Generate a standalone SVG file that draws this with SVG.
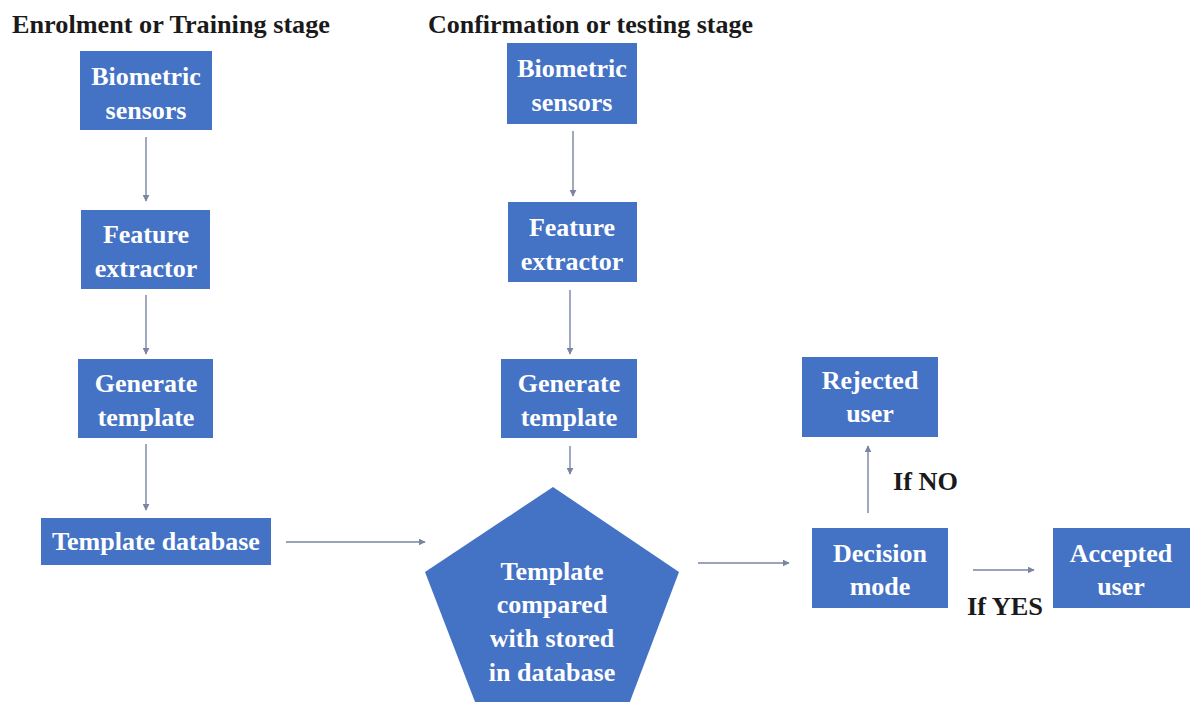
<svg xmlns="http://www.w3.org/2000/svg" width="1190" height="702" viewBox="0 0 1190 702">
<style>
.box{fill:#4472C4;}
.t{font-family:"Liberation Serif","Times New Roman",serif;font-weight:bold;font-size:26px;fill:#ffffff;text-anchor:middle;}
.h{font-family:"Liberation Serif","Times New Roman",serif;font-weight:bold;font-size:26px;fill:#1a1a1a;}
.c{stroke:#7a84a3;stroke-width:1.4;fill:none;marker-end:url(#ah);}
</style>
<defs>
<marker id="ah" viewBox="0 0 10 10" refX="9" refY="5" markerWidth="5" markerHeight="5" orient="auto" markerUnits="strokeWidth">
<path d="M0,0 L10,5 L0,10 z" fill="#7a84a3"/>
</marker>
</defs>
<rect width="1190" height="702" fill="#ffffff"/>
<g id="titles">
<text class="h" x="12" y="33" textLength="318" lengthAdjust="spacingAndGlyphs">Enrolment or Training stage</text>
<text class="h" x="428" y="33" textLength="325" lengthAdjust="spacingAndGlyphs">Confirmation or testing stage</text>
</g>
<g id="connectors">
<line class="c" x1="146" y1="137" x2="146" y2="201"/>
<line class="c" x1="146" y1="295" x2="146" y2="354"/>
<line class="c" x1="146" y1="444" x2="146" y2="510"/>
<line class="c" x1="286" y1="542" x2="425" y2="542"/>
<line class="c" x1="573" y1="131" x2="573" y2="196"/>
<line class="c" x1="570" y1="290" x2="570" y2="354"/>
<line class="c" x1="570" y1="446" x2="570" y2="474"/>
<line class="c" x1="698" y1="563" x2="789" y2="563"/>
<line class="c" x1="868" y1="513" x2="868" y2="446"/>
<line class="c" x1="973" y1="570" x2="1034" y2="570"/>
</g>
<g id="enrol-sensors">
<rect class="box" x="80" y="51" width="132" height="79"/>
<text class="t" x="146" y="85">Biometric</text>
<text class="t" x="146" y="119">sensors</text>
</g>
<g id="enrol-feature">
<rect class="box" x="81" y="210" width="129" height="79"/>
<text class="t" x="146" y="243">Feature</text>
<text class="t" x="146" y="277">extractor</text>
</g>
<g id="enrol-generate">
<rect class="box" x="78" y="359" width="135" height="79"/>
<text class="t" x="146" y="392">Generate</text>
<text class="t" x="146" y="426">template</text>
</g>
<g id="template-database">
<rect class="box" x="41" y="518" width="230" height="47"/>
<text class="t" x="156" y="550">Template database</text>
</g>
<g id="test-sensors">
<rect class="box" x="507" y="43" width="130" height="81"/>
<text class="t" x="572" y="77">Biometric</text>
<text class="t" x="572" y="111">sensors</text>
</g>
<g id="test-feature">
<rect class="box" x="508" y="202" width="129" height="80"/>
<text class="t" x="572" y="236">Feature</text>
<text class="t" x="572" y="270">extractor</text>
</g>
<g id="test-generate">
<rect class="box" x="501" y="359" width="136" height="79"/>
<text class="t" x="569" y="392">Generate</text>
<text class="t" x="569" y="426">template</text>
</g>
<g id="compare">
<polygon class="box" points="553,487 679,572 623,720 482,720 425,572"/>
<text class="t" x="552" y="580">Template</text>
<text class="t" x="552" y="613">compared</text>
<text class="t" x="552" y="647">with stored</text>
<text class="t" x="552" y="681">in database</text>
</g>
<g id="rejected">
<rect class="box" x="802" y="357" width="136" height="80"/>
<text class="t" x="870" y="389">Rejected</text>
<text class="t" x="870" y="422">user</text>
</g>
<g id="decision">
<rect class="box" x="812" y="528" width="136" height="80"/>
<text class="t" x="880" y="562">Decision</text>
<text class="t" x="880" y="595">mode</text>
</g>
<g id="accepted">
<rect class="box" x="1053" y="528" width="137" height="80"/>
<text class="t" x="1121" y="562">Accepted</text>
<text class="t" x="1121" y="595">user</text>
</g>
<g id="labels">
<text class="h" x="893" y="490" textLength="65" lengthAdjust="spacingAndGlyphs">If NO</text>
<text class="h" x="967" y="615" textLength="76" lengthAdjust="spacingAndGlyphs">If YES</text>
</g>
</svg>
